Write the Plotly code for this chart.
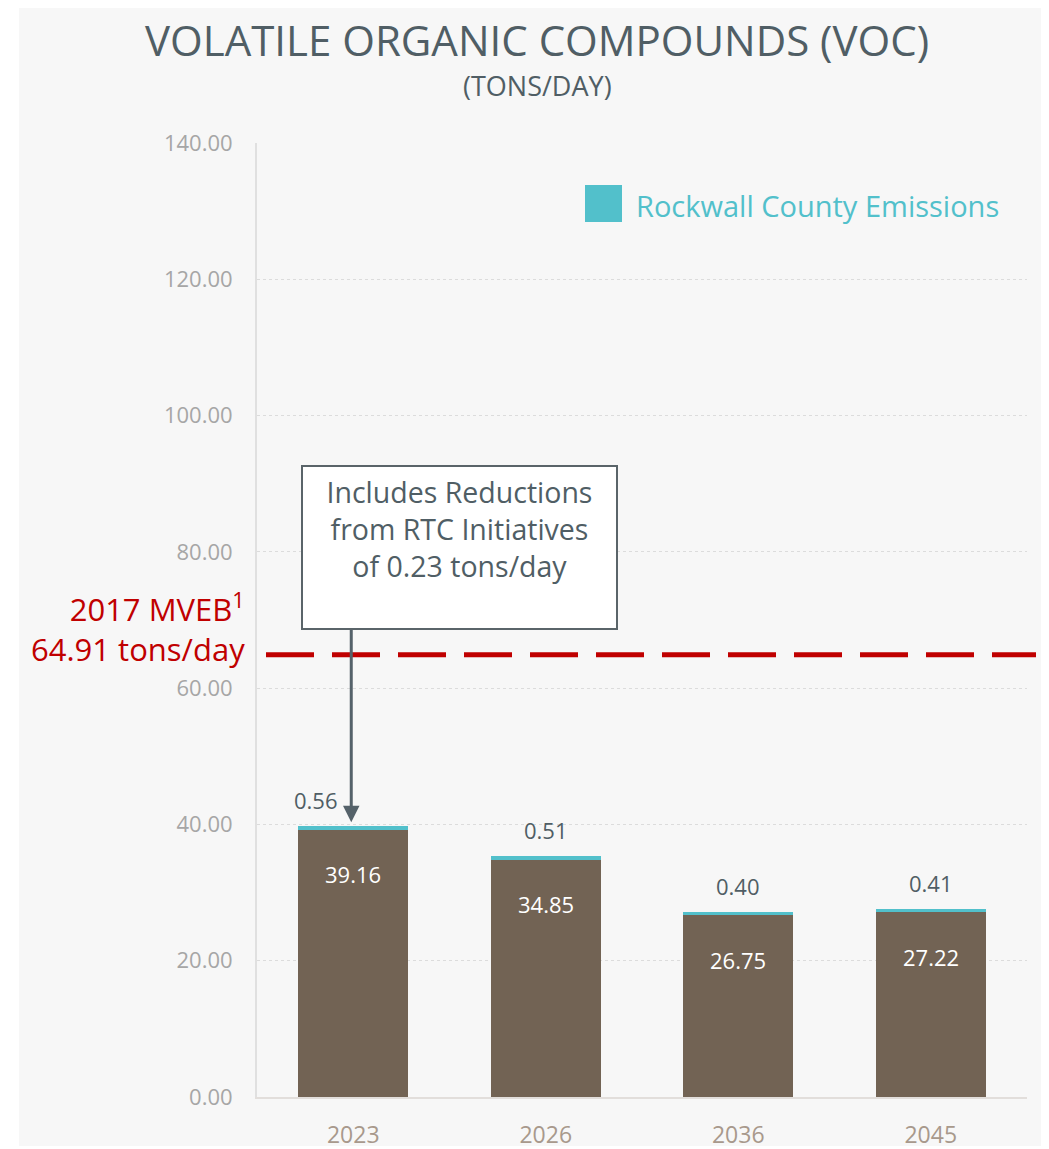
import plotly.graph_objects as go

# ---- data ----
years = ["2023", "2026", "2036", "2045"]
base_values = [39.16, 34.85, 26.75, 27.22]
rockwall_values = [0.56, 0.51, 0.40, 0.41]
y_ticks = [0, 20, 40, 60, 80, 100, 120, 140]
y_tick_labels = ["0.00", "20.00", "40.00", "60.00", "80.00", "100.00", "120.00", "140.00"]
mveb_value = 64.91
rtc_reduction = 0.23

FONT = "Open Sans"
BROWN = "#726354"
TEAL = "#52c0cb"
RED = "#c00000"
DARK = "#505e65"

OFF = 8  # page body margin
W, H = 1049 - OFF, 1149 - OFF
ML = 257 - OFF
MT = 143 - OFF
PB = 1097 - OFF
PR = 1027 - OFF
MR = W - PR
MB = H - PB
PW = W - ML - MR
PH = H - MT - MB

def px_x(x):
    return (x - OFF - ML) / PW

def px_y(y):
    return (PB - (y - OFF)) / PH

fig = go.Figure()
fig.add_trace(go.Bar(x=years, y=base_values, marker=dict(color=BROWN, line=dict(width=0)),
                     showlegend=False, hoverinfo="skip"))
fig.add_trace(go.Bar(x=years, y=rockwall_values, marker=dict(color=TEAL, line=dict(width=0)),
                     name="Rockwall County Emissions", showlegend=False, hoverinfo="skip"))

annotations = []
totals = [b + r for b, r in zip(base_values, rockwall_values)]
for i, (b, r, t) in enumerate(zip(base_values, rockwall_values, totals)):
    annotations.append(dict(x=i, y=t, xref="x", yref="y", text=f"{b:.2f}", showarrow=False,
                            xanchor="center", yanchor="middle", yshift=-48,
                            font=dict(family=FONT, size=22, color="white")))
    annotations.append(dict(x=i, y=t, xref="x", yref="y", text=f"{r:.2f}", showarrow=False,
                            xanchor="center", yanchor="middle",
                            yshift=26, xshift=-37 if i == 0 else 0,
                            font=dict(family=FONT, size=22, color=DARK)))

# arrow from callout box to 2023 bar
annotations.append(dict(x=0, y=totals[0], xref="x", yref="y", text="", showarrow=True,
                        ax=0, ay=-200, axref="pixel", ayref="pixel", arrowhead=2, arrowsize=1.1,
                        arrowwidth=3, arrowcolor="#55626a", standoff=4, xshift=-2))
# callout box
annotations.append(dict(x=px_x(459.5), y=px_y(547.5), xref="paper", yref="paper",
                        xanchor="center", yanchor="middle",
                        text=f"Includes Reductions<br>from RTC Initiatives<br>of {rtc_reduction:.2f} tons/day",
                        showarrow=False, width=301, height=149, align="center", valign="top",
                        bgcolor="white", bordercolor="#5a6469", borderwidth=2, borderpad=6,
                        font=dict(family=FONT, size=28.5, color=DARK)))
# MVEB label
annotations.append(dict(x=px_x(247), y=px_y(627), xref="paper", yref="paper",
                        text=f"2017 MVEB<sup>1</sup><br>{mveb_value:.2f} tons/day",
                        showarrow=False, xanchor="right", yanchor="middle", align="right",
                        font=dict(family=FONT, size=31, color=RED)))
# titles
annotations.append(dict(x=px_x(537), y=px_y(39), xref="paper", yref="paper",
                        xanchor="center", yanchor="middle",
                        text="VOLATILE ORGANIC COMPOUNDS (VOC)", showarrow=False,
                        font=dict(family=FONT, size=42, color="#505e65")))
annotations.append(dict(x=px_x(537), y=px_y(86), xref="paper", yref="paper",
                        xanchor="center", yanchor="middle",
                        text="(TONS/DAY)", showarrow=False,
                        font=dict(family=FONT, size=27, color="#505e65")))
# legend text
annotations.append(dict(x=px_x(634), y=px_y(205), xref="paper", yref="paper",
                        text="Rockwall County Emissions", showarrow=False,
                        xanchor="left", yanchor="middle",
                        font=dict(family=FONT, size=29, color=TEAL)))

shapes = [
    # background panel
    dict(type="rect", xref="paper", yref="paper", x0=px_x(19), x1=px_x(1060), y0=px_y(1146), y1=px_y(3),
         fillcolor="#f7f7f7", line=dict(width=0), layer="below"),
    # legend swatch
    dict(type="rect", xref="paper", yref="paper", x0=px_x(585), x1=px_x(622), y0=px_y(222), y1=px_y(185),
         fillcolor=TEAL, line=dict(width=0)),
    # MVEB dashed line
    dict(type="line", xref="paper", yref="y", x0=px_x(266), x1=px_x(1036), y0=mveb_value, y1=mveb_value,
         line=dict(color=RED, width=5, dash="48px,18px")),
]

fig.update_layout(
    width=W, height=H,
    margin=dict(l=ML, r=MR, t=MT, b=MB, autoexpand=False),
    paper_bgcolor="white", plot_bgcolor="rgba(0,0,0,0)",
    barmode="stack", bargap=0.43,
    annotations=annotations, shapes=shapes,
    font=dict(family=FONT),
    xaxis=dict(type="category", range=[-0.5, len(years) - 0.5], showgrid=False, showline=True,
               linecolor="#e2dedb", linewidth=2,
               tickfont=dict(family=FONT, size=23, color="#a8998c"), automargin=False,
               ticks="outside", ticklen=16, tickcolor="rgba(0,0,0,0)", zeroline=False),
    yaxis=dict(range=[0, 140], tickvals=y_ticks, ticktext=y_tick_labels, automargin=False,
               showgrid=True, gridcolor="#dcdcdc", griddash="dot", gridwidth=1,
               showline=True, linecolor="#e0e0e0", linewidth=2, zeroline=False,
               tickfont=dict(family=FONT, size=22, color="#a6a6a6"),
               ticks="outside", ticklen=18, tickcolor="rgba(0,0,0,0)"),
)

fig.write_html("out.html")
